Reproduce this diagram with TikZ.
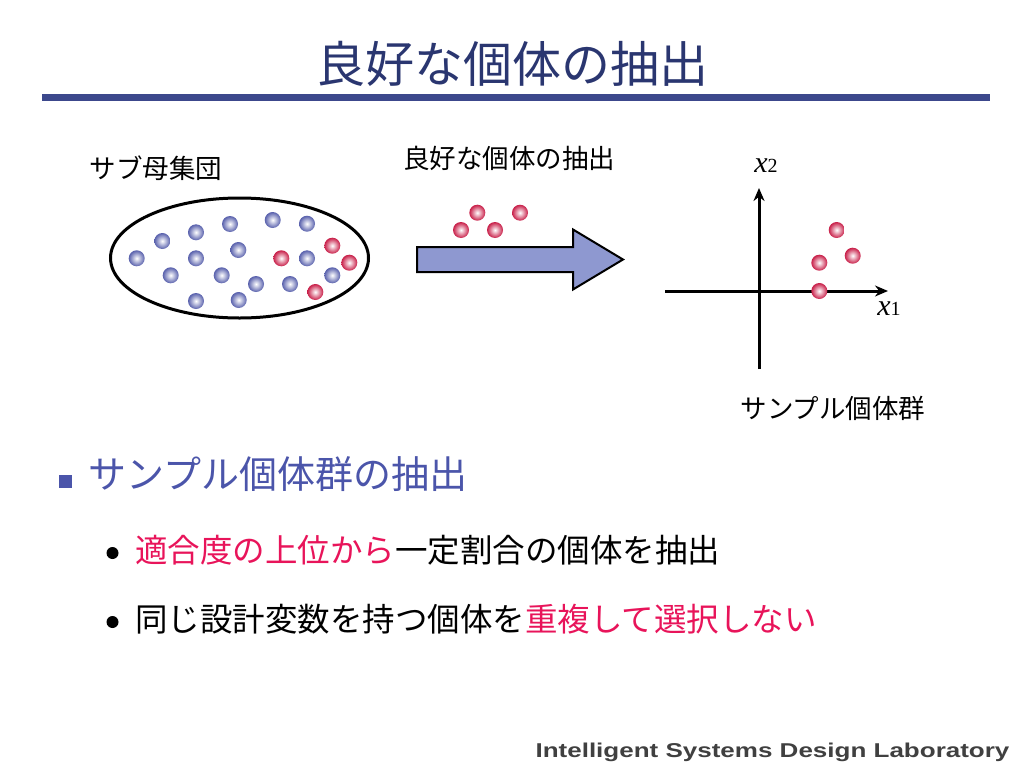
\documentclass[tikz,border=0pt]{standalone}
\usepackage{fontspec}
\setmainfont{Noto Sans CJK JP}
\newfontfamily\labfont[FakeStretch=1.3]{Liberation Sans}
\newfontfamily\axfont{Liberation Serif}
\usetikzlibrary{arrows.meta, shapes.geometric}
\definecolor{titleblue}{RGB}{42,54,112}
\definecolor{ruleblue}{RGB}{60,72,140}
\definecolor{headblue}{RGB}{75,85,170}
\definecolor{hlred}{RGB}{232,20,90}
\definecolor{ballblue}{RGB}{88,96,172}
\definecolor{ballred}{RGB}{200,30,72}
\definecolor{arrowfill}{RGB}{142,152,208}

\begin{document}
\begin{tikzpicture}[x=1pt, y=-1pt,
    blueball/.style={circle, minimum size=16, inner sep=0, shade, inner color=white, outer color=ballblue},
    redball/.style={circle, minimum size=16, inner sep=0, shade, inner color=white, outer color=ballred},
    label/.style={font=\fontsize{26.5}{28}\selectfont, inner sep=0},
    axis/.style={-{Stealth[length=13, width=11]}, line width=3}]
\useasboundingbox (0,0) rectangle (1024,768);

    \node[font=\fontsize{49}{50}\selectfont, text=titleblue] (title) at (512,64) {良好な個体の抽出};
    \coordinate (rl) at (42,97);
    \coordinate (rr) at (990,97);
    \draw[ruleblue, line width=7] (rl) -- (rr);

    % sub-population
    \node[label] (sublbl) at (156,168) {サブ母集団};
    \node[ellipse, draw, line width=3, minimum width=258, minimum height=120] (pop) at (239.5,258) {};
    \foreach \x/\y [count=\i] in {136.7/258.3, 162.3/241, 196/232.3, 230/224, 272.7/220, 307/223.7,
        196/258.3, 238.3/250, 170.7/275.3, 221.7/275.3, 256/284, 290/284, 307/258.3, 332.3/275.3,
        196/301, 238.7/300}
        \node[blueball] (b\i) at (\x,\y) {};
    \foreach \x/\y [count=\i] in {281.3/258.3, 332.3/245.7, 349.3/262.7, 315.3/292}
        \node[redball] (r\i) at (\x,\y) {};

    % extraction
    \node[label] (extlbl) at (509,158) {良好な個体の抽出};
    \foreach \x/\y [count=\i] in {461/230, 477.3/212.7, 495/230, 520/212.7}
        \node[redball] (e\i) at (\x,\y) {};
    \draw[line width=2, fill=arrowfill, line join=miter]
        (417,247) -- (573,247) -- (573,229.5) -- (623,259.5) -- (573,289.5) -- (573,272) -- (417,272) -- cycle;

    % sample space
    \coordinate (xl) at (665,291);
    \coordinate (xr) at (888,291);
    \coordinate (yb) at (759,369);
    \coordinate (yt) at (759,188);
    \draw[axis] (xl) -- (xr);
    \draw[axis] (yb) -- (yt);
    \node[font=\axfont\fontsize{30}{30}\selectfont, inner sep=0] (x2) at (766,166) {\textit{x}{\fontsize{20}{20}\selectfont 2}};
    \node[font=\axfont\fontsize{30}{30}\selectfont, inner sep=0] (x1) at (889,309) {\textit{x}{\fontsize{20}{20}\selectfont 1}};
    \foreach \x/\y [count=\i] in {819.3/291, 819.3/262.7, 836.7/230, 852.7/255.7}
        \node[redball] (s\i) at (\x,\y) {};
    \node[label] (smplbl) at (833,408) {サンプル個体群};

    % bullets
    \node[fill=headblue, minimum size=13, inner sep=0] (sq) at (65,481) {};
    \node[anchor=west, inner sep=0, text=headblue, font=\fontsize{38}{40}\selectfont] (head) at (88,474) {サンプル個体群の抽出};
    \node[circle, fill=black, minimum size=12, inner sep=0] (d1) at (112.5,553) {};
    \node[anchor=west, inner sep=0, font=\fontsize{32.5}{34}\selectfont] (item1) at (135,550)
        {{\color{hlred}適合度の上位から}一定割合の個体を抽出};
    \node[circle, fill=black, minimum size=12, inner sep=0] (d2) at (112.5,622) {};
    \node[anchor=west, inner sep=0, font=\fontsize{32.5}{34}\selectfont] (item2) at (135,619)
        {同じ設計変数を持つ個体を{\color{hlred}重複して選択しない}};

    \node[font=\labfont\bfseries\fontsize{20}{20}\selectfont, text=black!75, inner sep=0] (lab) at (772.5,752)
        {Intelligent Systems Design Laboratory};
\end{tikzpicture}
\end{document}
